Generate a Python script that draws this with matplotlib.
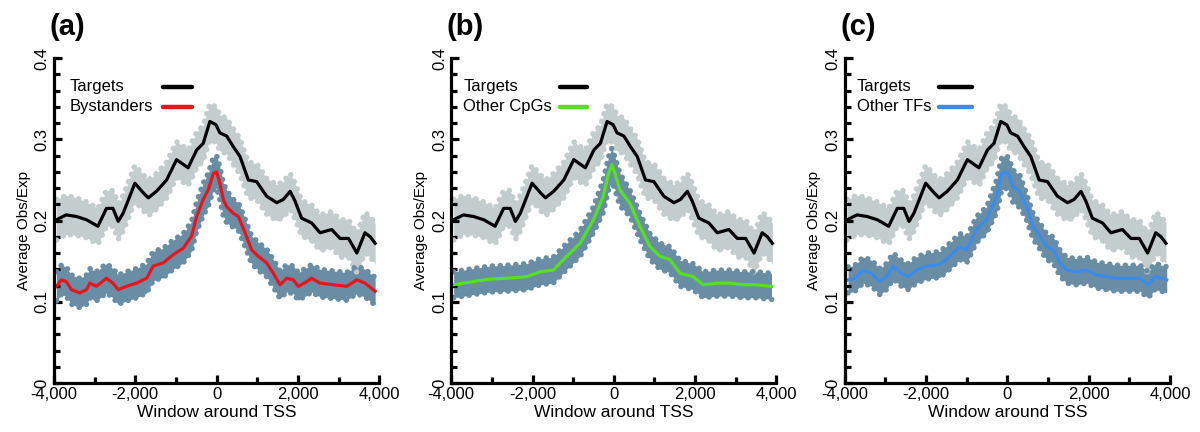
import numpy as np
import matplotlib.pyplot as plt
from matplotlib.ticker import MultipleLocator, FuncFormatter

plt.rcParams['font.family'] = ['Liberation Sans', 'DejaVu Sans']

# Targets (same curve in all three panels)
tgt_x = [-3940, -3700, -3450, -3200, -2920, -2710, -2550, -2420, -2300, -2010,
         -1800, -1680, -1480, -1230, -985, -700, -490, -330, -165, -15,
         80, 250, 410, 575, 780, 985, 1230, 1480, 1640, 1810,
         1930, 2090, 2340, 2545, 2830, 3040, 3245, 3450, 3650, 3780, 3900]
tgt_y = [0.201, 0.207, 0.205, 0.201, 0.193, 0.215, 0.215, 0.199, 0.209, 0.246,
         0.234, 0.228, 0.236, 0.250, 0.275, 0.265, 0.287, 0.295, 0.322, 0.318,
         0.308, 0.304, 0.291, 0.279, 0.250, 0.248, 0.230, 0.222, 0.226, 0.236,
         0.224, 0.203, 0.197, 0.185, 0.189, 0.178, 0.178, 0.160, 0.185, 0.180, 0.172]
tgt_err = [0.025, 0.024, 0.023, 0.022, 0.022, 0.022, 0.022, 0.022, 0.022, 0.022,
           0.022, 0.022, 0.022, 0.022, 0.022, 0.022, 0.022, 0.022, 0.022, 0.022,
           0.022, 0.022, 0.022, 0.022, 0.022, 0.022, 0.022, 0.022, 0.022, 0.022,
           0.022, 0.022, 0.022, 0.022, 0.022, 0.023, 0.023, 0.024, 0.025, 0.025, 0.025]

# (a) Bystanders
bys_x = [-3940, -3820, -3700, -3570, -3370, -3200, -3120, -2960, -2710, -2550,
         -2420, -2220, -1970, -1720, -1560, -1310, -1070, -820, -615, -490,
         -330, -205, -80, 0, 80, 165, 250, 410, 535, 700,
         860, 1025, 1230, 1395, 1560, 1725, 1890, 2010, 2220, 2340,
         2545, 2870, 3200, 3450, 3650, 3900]
bys_y = [0.119, 0.127, 0.125, 0.115, 0.111, 0.115, 0.123, 0.119, 0.129, 0.123,
         0.115, 0.119, 0.123, 0.129, 0.144, 0.148, 0.158, 0.166, 0.181, 0.205,
         0.226, 0.238, 0.258, 0.260, 0.246, 0.226, 0.217, 0.209, 0.205, 0.185,
         0.164, 0.156, 0.148, 0.135, 0.121, 0.129, 0.127, 0.119, 0.125, 0.129,
         0.123, 0.121, 0.119, 0.127, 0.123, 0.113]
bys_err = [0.018] * 20 + [0.02] * 7 + [0.017] * 19

# (b) Other CpGs
cpg_x = [-3940, -3450, -3040, -2630, -2140, -1810, -1490, -1160, -830, -500,
         -260, -130, -50, 30, 150, 400, 640, 890, 1140, 1380,
         1630, 1950, 2200, 2530, 2860, 3180, 3510, 3880]
cpg_y = [0.121, 0.125, 0.128, 0.129, 0.131, 0.137, 0.139, 0.156, 0.172, 0.201,
         0.230, 0.258, 0.269, 0.258, 0.238, 0.221, 0.193, 0.168, 0.156, 0.152,
         0.135, 0.131, 0.121, 0.123, 0.123, 0.121, 0.121, 0.119]
cpg_err = [0.016] * 10 + [0.02] * 5 + [0.016] * 13

# (c) Other TFs
tf_x = [-3920, -3750, -3550, -3340, -3140, -2975, -2810, -2605, -2440, -2240,
        -1990, -1660, -1420, -1170, -1000, -760, -510, -265, -140, -60,
        20, 140, 305, 470, 630, 800, 960, 1125, 1290, 1455,
        1700, 1950, 2190, 2440, 2685, 3015, 3260, 3465, 3630, 3795, 3920]
tf_y = [0.127, 0.129, 0.139, 0.135, 0.125, 0.131, 0.144, 0.135, 0.131, 0.139,
        0.144, 0.146, 0.156, 0.168, 0.164, 0.189, 0.201, 0.230, 0.258, 0.260,
        0.258, 0.242, 0.236, 0.217, 0.193, 0.181, 0.168, 0.164, 0.148, 0.139,
        0.137, 0.139, 0.133, 0.131, 0.129, 0.129, 0.129, 0.121, 0.131, 0.129, 0.127]
tf_err = [0.016] * 17 + [0.02] * 6 + [0.016] * 18

panels = [
    ("(a)", "Bystanders", bys_x, bys_y, bys_err, "#e8161c"),
    ("(b)", "Other CpGs", cpg_x, cpg_y, cpg_err, "#55e021"),
    ("(c)", "Other TFs", tf_x, tf_y, tf_err, "#3b8ce8"),
]
lefts = [0.045, 0.376, 0.704]
# legend layout per panel: text x, handle start, handle end (axes fraction)
leg_pos = [(0.049, 0.335, 0.425), (0.037, 0.335, 0.418), (0.037, 0.29, 0.39)]

gray_band = "#c3cdcd"
dark_band = "#6a8da6"

fig = plt.figure(figsize=(12, 4.32), dpi=100)

for (tag, name, xs, ys, es, col), left, (tx, h0, h1) in zip(panels, lefts, leg_pos):
    ax = fig.add_axes([left, 0.1134, 0.271, 0.752])

    for x, y, e, band, lc in [(tgt_x, tgt_y, tgt_err, gray_band, "black"),
                              (xs, ys, es, dark_band, col)]:
        x = np.array(x); y = np.array(y); e = np.array(e)
        ax.fill_between(x, y - e, y + e, color=band, lw=0)
        for edge in (y - e, y + e):
            ax.plot(x, edge, color=band, lw=4, ls=(0, (0.01, 1.4)),
                    dash_capstyle='round')
        ax.plot(x, y, color=lc, lw=2.3, solid_joinstyle='round')

    # legend drawn by hand: left-aligned labels, handles lined up on the right
    for row_y, lab, lc in [(0.912, "Targets", "black"), (0.85, name, col)]:
        ax.text(tx, row_y, lab, transform=ax.transAxes, fontsize=12,
                ha='left', va='center')
        ax.plot([h0, h1], [row_y, row_y], transform=ax.transAxes, color=lc,
                lw=3.2, solid_capstyle='round')

    ax.set_xlim(-4000, 4000)
    ax.set_ylim(0, 0.4)
    for s in ['top', 'right']:
        ax.spines[s].set_visible(False)
    for s in ['left', 'bottom']:
        ax.spines[s].set_linewidth(2.3)
    ax.xaxis.set_major_locator(MultipleLocator(2000))
    ax.xaxis.set_minor_locator(MultipleLocator(1000))
    ax.yaxis.set_major_locator(MultipleLocator(0.1))
    ax.yaxis.set_minor_locator(MultipleLocator(0.02))
    ax.xaxis.set_major_formatter(FuncFormatter(lambda v, p: f"{int(v):,}"))
    ax.yaxis.set_major_formatter(FuncFormatter(lambda v, p: "0" if v == 0 else f"{v:.1f}"))
    ax.tick_params(which='major', direction='in', length=6, width=2.3, labelsize=12, pad=3)
    ax.tick_params(which='minor', direction='in', length=4, width=2.3)
    plt.setp(ax.get_yticklabels(), rotation=90, va='center')
    ax.set_xlabel("Window around TSS", fontsize=12.5, labelpad=2)
    ax.set_ylabel("Average Obs/Exp", fontsize=11)
    ax.yaxis.set_label_coords(-0.072, 0.47)

    fig.text(left - 0.004, 0.938, tag, fontsize=21, fontweight='bold',
             ha='left', va='center')

fig.savefig("out.png", dpi=100)
